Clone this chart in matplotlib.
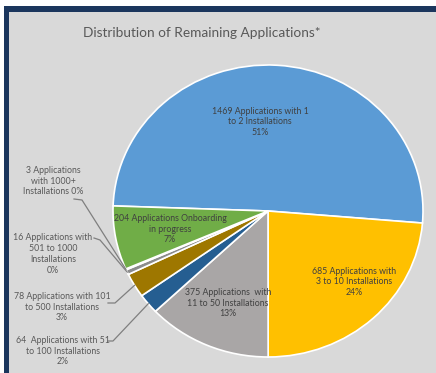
import numpy as np
import matplotlib.pyplot as plt
from matplotlib.patches import Rectangle
from matplotlib.lines import Line2D

plt.rcParams['font.family'] = ['Lato', 'DejaVu Sans']

# slices in clockwise order, starting just left of 12 o'clock... (Excel order)
counts = [1469, 685, 375, 64, 78, 16, 3, 204]
names = ['1469 Applications with 1\nto 2 Installations',
         '685 Applications with\n3 to 10 Installations',
         '375 Applications  with\n11 to 50 Installations',
         '64  Applications with 51\nto 100 Installations',
         '78 Applications with 101\nto 500 Installations',
         '16 Applications with\n501 to 1000\nInstallations',
         '3 Applications\nwith 1000+\nInstallations',
         '204 Applications Onboarding\nin progress']
pcts = ['51%', '24%', '13%', '2%', '3%', '0%', '0%', '7%']
colors = ['#5B9BD5', '#FFC000', '#A9A6A6', '#255E91', '#9E7700',
          '#8C8C8C', '#7F7F7F', '#70AD47']

W, H = 436, 373
fig = plt.figure(figsize=(W / 100, H / 100), dpi=100)
fig.patch.set_facecolor('white')

def fx(px):
    return px / W

def fy(py):
    return 1 - py / H

# slide background + navy frame
fig.add_artist(Rectangle((fx(4), 0), 1, fy(6), transform=fig.transFigure,
                         facecolor='#1B365D', edgecolor='none', zorder=0))
fig.add_artist(Rectangle((fx(9), 0), 1, fy(12), transform=fig.transFigure,
                         facecolor='#D9D9D9', edgecolor='none', zorder=0))

ax = fig.add_axes([fx(113), 16 / H, 310 / W, 292 / H])
wedges, _ = ax.pie(counts, colors=colors, startangle=178, counterclock=False,
                   radius=1, wedgeprops=dict(edgecolor='white', linewidth=1.2))
ax.set_xlim(-1, 1)
ax.set_ylim(-1, 1)
ax.set_aspect('auto')
ax.axis('off')

fig.text(fx(202), fy(33), 'Distribution of Remaining Applications*',
         ha='center', va='center', fontsize=9.8, color='#595959')

fs = 6.3
# labels inside the slices
inside = {0: (260, 122), 1: (354, 282), 2: (228, 303), 7: (170, 229)}
for i, (px, py) in inside.items():
    fig.text(fx(px), fy(py), names[i] + '\n' + pcts[i], ha='center', va='center',
             fontsize=fs, color='#404040', linespacing=1.25)

# labels outside with leader lines
outside = {
    6: ((53, 181), [(74, 199), (82, 200)]),
    5: ((53, 254), [(94, 238), (100, 240)]),
    4: ((62, 307), [(108, 303), (115, 303)]),
    3: ((63, 351), [(108, 341), (113, 341)]),
}
for i, ((px, py), elbow) in outside.items():
    if i in (5, 6):
        txt = names[i] + ('\n' if i == 5 else ' ') + pcts[i]
    else:
        txt = names[i] + '\n' + pcts[i]
    fig.text(fx(px), fy(py), txt, ha='center', va='center',
             fontsize=fs, color='#595959', linespacing=1.25)
    w = wedges[i]
    mid = np.deg2rad((w.theta1 + w.theta2) / 2)
    end = fig.transFigure.inverted().transform(
        ax.transData.transform((np.cos(mid), np.sin(mid))))
    xs = [fx(p[0]) for p in elbow] + [end[0]]
    ys = [fy(p[1]) for p in elbow] + [end[1]]
    fig.add_artist(Line2D(xs, ys, transform=fig.transFigure,
                          color='#7F7F7F', linewidth=0.9))

fig.savefig('out.png', dpi=100)
